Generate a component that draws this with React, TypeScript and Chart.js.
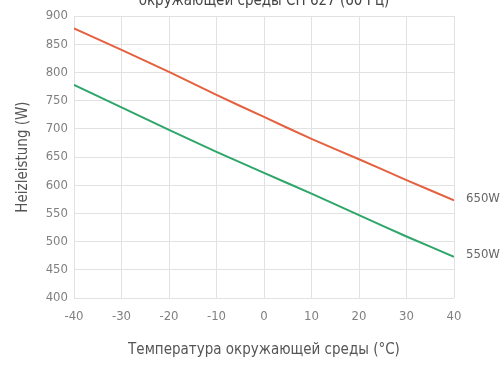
import React, { useEffect, useRef } from "react";
import { Chart, registerables } from "chart.js";

Chart.register(...registerables);

const temperatures = [-40, -30, -20, -10, 0, 10, 20, 30, 40];
const series650 = [878, 840, 801, 760, 721, 682, 646, 609, 573];
const series550 = [778, 738, 698, 659, 622, 585, 547, 509, 473];
const seriesNames = ["650W", "550W"];
const titleText = "окружающей среды CH 627 (60 Гц)";
const yTitle = "Heizleistung (W)";
const xTitle = "Температура окружающей среды (°C)";

const FONT = "'Liberation Sans Narrow', 'DejaVu Sans Condensed', 'Roboto', sans-serif";

const endLabels = {
  id: "endLabels",
  afterDatasetsDraw(chart: any) {
    const ctx = chart.ctx;
    ctx.save();
    ctx.font = `13px ${FONT}`;
    ctx.fillStyle = "#666";
    ctx.textAlign = "left";
    ctx.textBaseline = "middle";
    chart.data.datasets.forEach((ds: any, i: number) => {
      const meta = chart.getDatasetMeta(i);
      const pt = meta.data[meta.data.length - 1];
      ctx.fillText(seriesNames[i], pt.x + 12, pt.y - 2);
    });
    ctx.font = `15px ${FONT}`;
    ctx.fillStyle = "#444";
    ctx.textAlign = "center";
    ctx.textBaseline = "alphabetic";
    const cx = (chart.chartArea.left + chart.chartArea.right) / 2;
    ctx.fillText(titleText, cx, 5);
    ctx.restore();
  },
};

export default function App() {
  const ref = useRef<HTMLCanvasElement>(null);
  useEffect(() => {
    const chart = new Chart(ref.current!, {
      type: "line",
      data: {
        datasets: [
          {
            label: seriesNames[0],
            data: temperatures.map((t, i) => ({ x: t, y: series650[i] })),
            borderColor: "#e5603f",
            borderWidth: 2,
            pointRadius: 0,
            tension: 0.1,
          },
          {
            label: seriesNames[1],
            data: temperatures.map((t, i) => ({ x: t, y: series550[i] })),
            borderColor: "#2ea66a",
            borderWidth: 2,
            pointRadius: 0,
            tension: 0.1,
          },
        ],
      },
      options: {
        responsive: false,
        animation: false,
        layout: { padding: { top: 16, right: 48, left: 0, bottom: 0 } },
        plugins: { legend: { display: false }, tooltip: { enabled: false }, title: { display: false } },
        scales: {
          x: {
            type: "linear",
            min: -40,
            max: 40,
            ticks: { stepSize: 10, color: "#808080", font: { family: FONT, size: 13 }, padding: 11 },
            grid: { color: "#e2e2e2", drawTicks: false },
            border: { display: false },
            title: { display: true, text: xTitle, color: "#555", font: { family: FONT, size: 15 }, padding: { top: 0, bottom: 6 } },
            afterFit(scale: any) {
              scale.height = 67;
            },
          },
          y: {
            min: 400,
            max: 900,
            ticks: { stepSize: 50, color: "#808080", font: { family: FONT, size: 13 }, padding: 6 },
            grid: { color: "#e2e2e2", drawTicks: false },
            border: { display: false },
            title: { display: true, text: yTitle, color: "#555", font: { family: FONT, size: 15 }, padding: { top: 14, bottom: 0 } },
            afterFit(scale: any) {
              scale.width = 74;
            },
          },
        },
      },
      plugins: [endLabels],
    });
    return () => chart.destroy();
  }, []);
  return (
    <div style={{ position: "fixed", left: 0, top: 0, width: 502, height: 365, background: "#fff" }}>
      <canvas ref={ref} width={502} height={365} />
    </div>
  );
}
